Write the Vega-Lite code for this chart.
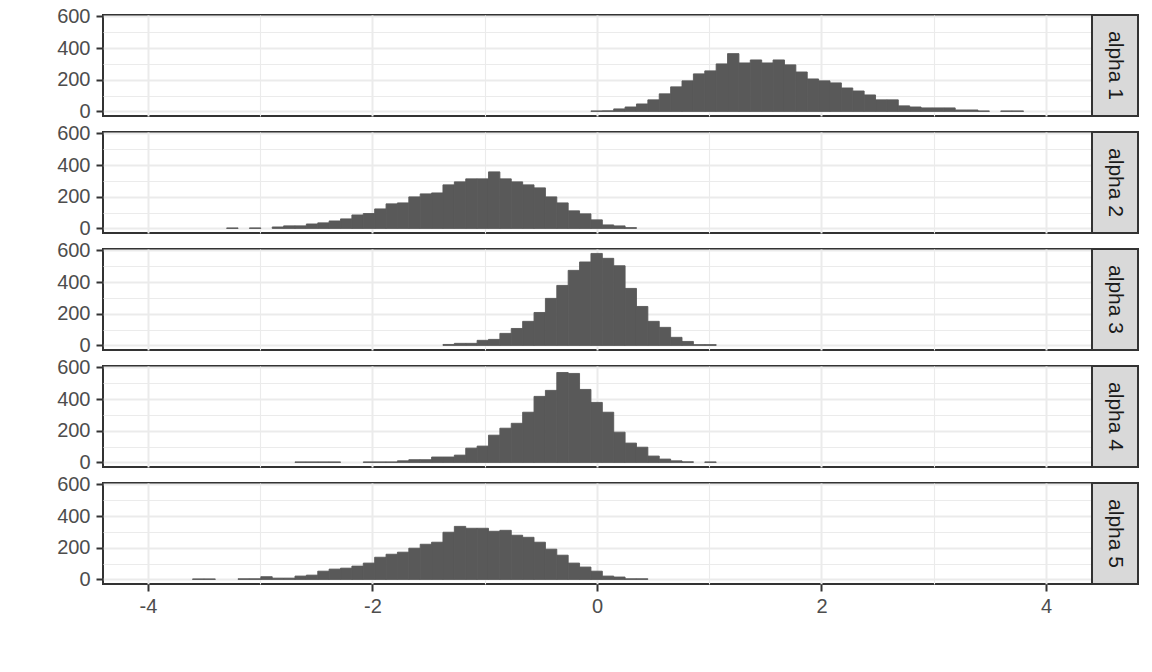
{
  "$schema": "https://vega.github.io/schema/vega-lite/v6.json",
  "padding": {"left": 55, "top": 5, "right": 5, "bottom": 5},
  "background": "white",
  "datasets": {
    "hist": [
      {"panel":"alpha 1","x0":-0.0534,"x1":0.0480,"n":3},
      {"panel":"alpha 1","x0":0.0480,"x1":0.1494,"n":4},
      {"panel":"alpha 1","x0":0.1494,"x1":0.2508,"n":16},
      {"panel":"alpha 1","x0":0.2508,"x1":0.3522,"n":28},
      {"panel":"alpha 1","x0":0.3522,"x1":0.4536,"n":47},
      {"panel":"alpha 1","x0":0.4536,"x1":0.5550,"n":73},
      {"panel":"alpha 1","x0":0.5550,"x1":0.6564,"n":111},
      {"panel":"alpha 1","x0":0.6564,"x1":0.7578,"n":155},
      {"panel":"alpha 1","x0":0.7578,"x1":0.8592,"n":193},
      {"panel":"alpha 1","x0":0.8592,"x1":0.9606,"n":237},
      {"panel":"alpha 1","x0":0.9606,"x1":1.0620,"n":256},
      {"panel":"alpha 1","x0":1.0620,"x1":1.1634,"n":300},
      {"panel":"alpha 1","x0":1.1634,"x1":1.2648,"n":365},
      {"panel":"alpha 1","x0":1.2648,"x1":1.3662,"n":306},
      {"panel":"alpha 1","x0":1.3662,"x1":1.4676,"n":325},
      {"panel":"alpha 1","x0":1.4676,"x1":1.5690,"n":306},
      {"panel":"alpha 1","x0":1.5690,"x1":1.6704,"n":325},
      {"panel":"alpha 1","x0":1.6704,"x1":1.7718,"n":294},
      {"panel":"alpha 1","x0":1.7718,"x1":1.8732,"n":249},
      {"panel":"alpha 1","x0":1.8732,"x1":1.9746,"n":205},
      {"panel":"alpha 1","x0":1.9746,"x1":2.0760,"n":193},
      {"panel":"alpha 1","x0":2.0760,"x1":2.1774,"n":180},
      {"panel":"alpha 1","x0":2.1774,"x1":2.2788,"n":148},
      {"panel":"alpha 1","x0":2.2788,"x1":2.3802,"n":129},
      {"panel":"alpha 1","x0":2.3802,"x1":2.4816,"n":104},
      {"panel":"alpha 1","x0":2.4816,"x1":2.5830,"n":73},
      {"panel":"alpha 1","x0":2.5830,"x1":2.6844,"n":73},
      {"panel":"alpha 1","x0":2.6844,"x1":2.7858,"n":35},
      {"panel":"alpha 1","x0":2.7858,"x1":2.8872,"n":28},
      {"panel":"alpha 1","x0":2.8872,"x1":2.9886,"n":22},
      {"panel":"alpha 1","x0":2.9886,"x1":3.0900,"n":22},
      {"panel":"alpha 1","x0":3.0900,"x1":3.1914,"n":22},
      {"panel":"alpha 1","x0":3.1914,"x1":3.2928,"n":9},
      {"panel":"alpha 1","x0":3.2928,"x1":3.3942,"n":9},
      {"panel":"alpha 1","x0":3.3942,"x1":3.4956,"n":3},
      {"panel":"alpha 1","x0":3.5970,"x1":3.6984,"n":3},
      {"panel":"alpha 1","x0":3.6984,"x1":3.7998,"n":3},

      {"panel":"alpha 2","x0":-3.2982,"x1":-3.1968,"n":3},
      {"panel":"alpha 2","x0":-3.0954,"x1":-2.9940,"n":3},
      {"panel":"alpha 2","x0":-2.8926,"x1":-2.7912,"n":9},
      {"panel":"alpha 2","x0":-2.7912,"x1":-2.6898,"n":16},
      {"panel":"alpha 2","x0":-2.6898,"x1":-2.5884,"n":16},
      {"panel":"alpha 2","x0":-2.5884,"x1":-2.4870,"n":28},
      {"panel":"alpha 2","x0":-2.4870,"x1":-2.3856,"n":35},
      {"panel":"alpha 2","x0":-2.3856,"x1":-2.2842,"n":47},
      {"panel":"alpha 2","x0":-2.2842,"x1":-2.1828,"n":60},
      {"panel":"alpha 2","x0":-2.1828,"x1":-2.0814,"n":85},
      {"panel":"alpha 2","x0":-2.0814,"x1":-1.9800,"n":94},
      {"panel":"alpha 2","x0":-1.9800,"x1":-1.8786,"n":123},
      {"panel":"alpha 2","x0":-1.8786,"x1":-1.7772,"n":155},
      {"panel":"alpha 2","x0":-1.7772,"x1":-1.6758,"n":161},
      {"panel":"alpha 2","x0":-1.6758,"x1":-1.5744,"n":199},
      {"panel":"alpha 2","x0":-1.5744,"x1":-1.4730,"n":218},
      {"panel":"alpha 2","x0":-1.4730,"x1":-1.3716,"n":224},
      {"panel":"alpha 2","x0":-1.3716,"x1":-1.2702,"n":275},
      {"panel":"alpha 2","x0":-1.2702,"x1":-1.1688,"n":294},
      {"panel":"alpha 2","x0":-1.1688,"x1":-1.0674,"n":313},
      {"panel":"alpha 2","x0":-1.0674,"x1":-0.9660,"n":313},
      {"panel":"alpha 2","x0":-0.9660,"x1":-0.8646,"n":357},
      {"panel":"alpha 2","x0":-0.8646,"x1":-0.7632,"n":313},
      {"panel":"alpha 2","x0":-0.7632,"x1":-0.6618,"n":294},
      {"panel":"alpha 2","x0":-0.6618,"x1":-0.5604,"n":275},
      {"panel":"alpha 2","x0":-0.5604,"x1":-0.4590,"n":256},
      {"panel":"alpha 2","x0":-0.4590,"x1":-0.3576,"n":199},
      {"panel":"alpha 2","x0":-0.3576,"x1":-0.2562,"n":161},
      {"panel":"alpha 2","x0":-0.2562,"x1":-0.1548,"n":111},
      {"panel":"alpha 2","x0":-0.1548,"x1":-0.0534,"n":92},
      {"panel":"alpha 2","x0":-0.0534,"x1":0.0480,"n":54},
      {"panel":"alpha 2","x0":0.0480,"x1":0.1494,"n":22},
      {"panel":"alpha 2","x0":0.1494,"x1":0.2508,"n":16},
      {"panel":"alpha 2","x0":0.2508,"x1":0.3522,"n":5},

      {"panel":"alpha 3","x0":-1.3716,"x1":-1.2702,"n":6},
      {"panel":"alpha 3","x0":-1.2702,"x1":-1.1688,"n":13},
      {"panel":"alpha 3","x0":-1.1688,"x1":-1.0674,"n":13},
      {"panel":"alpha 3","x0":-1.0674,"x1":-0.9660,"n":32},
      {"panel":"alpha 3","x0":-0.9660,"x1":-0.8646,"n":38},
      {"panel":"alpha 3","x0":-0.8646,"x1":-0.7632,"n":76},
      {"panel":"alpha 3","x0":-0.7632,"x1":-0.6618,"n":107},
      {"panel":"alpha 3","x0":-0.6618,"x1":-0.5604,"n":152},
      {"panel":"alpha 3","x0":-0.5604,"x1":-0.4590,"n":208},
      {"panel":"alpha 3","x0":-0.4590,"x1":-0.3576,"n":297},
      {"panel":"alpha 3","x0":-0.3576,"x1":-0.2562,"n":379},
      {"panel":"alpha 3","x0":-0.2562,"x1":-0.1548,"n":474},
      {"panel":"alpha 3","x0":-0.1548,"x1":-0.0534,"n":527},
      {"panel":"alpha 3","x0":-0.0534,"x1":0.0480,"n":581},
      {"panel":"alpha 3","x0":0.0480,"x1":0.1494,"n":550},
      {"panel":"alpha 3","x0":0.1494,"x1":0.2508,"n":503},
      {"panel":"alpha 3","x0":0.2508,"x1":0.3522,"n":360},
      {"panel":"alpha 3","x0":0.3522,"x1":0.4536,"n":246},
      {"panel":"alpha 3","x0":0.4536,"x1":0.5550,"n":152},
      {"panel":"alpha 3","x0":0.5550,"x1":0.6564,"n":114},
      {"panel":"alpha 3","x0":0.6564,"x1":0.7578,"n":51},
      {"panel":"alpha 3","x0":0.7578,"x1":0.8592,"n":25},
      {"panel":"alpha 3","x0":0.8592,"x1":0.9606,"n":5},
      {"panel":"alpha 3","x0":0.9606,"x1":1.0620,"n":5},

      {"panel":"alpha 4","x0":-2.6898,"x1":-2.5884,"n":3},
      {"panel":"alpha 4","x0":-2.5884,"x1":-2.4870,"n":3},
      {"panel":"alpha 4","x0":-2.4870,"x1":-2.3856,"n":3},
      {"panel":"alpha 4","x0":-2.3856,"x1":-2.2842,"n":3},
      {"panel":"alpha 4","x0":-2.0814,"x1":-1.9800,"n":3},
      {"panel":"alpha 4","x0":-1.9800,"x1":-1.8786,"n":3},
      {"panel":"alpha 4","x0":-1.8786,"x1":-1.7772,"n":3},
      {"panel":"alpha 4","x0":-1.7772,"x1":-1.6758,"n":10},
      {"panel":"alpha 4","x0":-1.6758,"x1":-1.5744,"n":17},
      {"panel":"alpha 4","x0":-1.5744,"x1":-1.4730,"n":17},
      {"panel":"alpha 4","x0":-1.4730,"x1":-1.3716,"n":34},
      {"panel":"alpha 4","x0":-1.3716,"x1":-1.2702,"n":34},
      {"panel":"alpha 4","x0":-1.2702,"x1":-1.1688,"n":46},
      {"panel":"alpha 4","x0":-1.1688,"x1":-1.0674,"n":90},
      {"panel":"alpha 4","x0":-1.0674,"x1":-0.9660,"n":103},
      {"panel":"alpha 4","x0":-0.9660,"x1":-0.8646,"n":172},
      {"panel":"alpha 4","x0":-0.8646,"x1":-0.7632,"n":216},
      {"panel":"alpha 4","x0":-0.7632,"x1":-0.6618,"n":247},
      {"panel":"alpha 4","x0":-0.6618,"x1":-0.5604,"n":317},
      {"panel":"alpha 4","x0":-0.5604,"x1":-0.4590,"n":417},
      {"panel":"alpha 4","x0":-0.4590,"x1":-0.3576,"n":455},
      {"panel":"alpha 4","x0":-0.3576,"x1":-0.2562,"n":568},
      {"panel":"alpha 4","x0":-0.2562,"x1":-0.1548,"n":562},
      {"panel":"alpha 4","x0":-0.1548,"x1":-0.0534,"n":461},
      {"panel":"alpha 4","x0":-0.0534,"x1":0.0480,"n":379},
      {"panel":"alpha 4","x0":0.0480,"x1":0.1494,"n":317},
      {"panel":"alpha 4","x0":0.1494,"x1":0.2508,"n":191},
      {"panel":"alpha 4","x0":0.2508,"x1":0.3522,"n":122},
      {"panel":"alpha 4","x0":0.3522,"x1":0.4536,"n":96},
      {"panel":"alpha 4","x0":0.4536,"x1":0.5550,"n":40},
      {"panel":"alpha 4","x0":0.5550,"x1":0.6564,"n":21},
      {"panel":"alpha 4","x0":0.6564,"x1":0.7578,"n":10},
      {"panel":"alpha 4","x0":0.7578,"x1":0.8592,"n":4},
      {"panel":"alpha 4","x0":0.9606,"x1":1.0620,"n":3},

      {"panel":"alpha 5","x0":-3.6024,"x1":-3.5010,"n":3},
      {"panel":"alpha 5","x0":-3.5010,"x1":-3.3996,"n":3},
      {"panel":"alpha 5","x0":-3.1968,"x1":-3.0954,"n":4},
      {"panel":"alpha 5","x0":-3.0954,"x1":-2.9940,"n":4},
      {"panel":"alpha 5","x0":-2.9940,"x1":-2.8926,"n":17},
      {"panel":"alpha 5","x0":-2.8926,"x1":-2.7912,"n":8},
      {"panel":"alpha 5","x0":-2.7912,"x1":-2.6898,"n":8},
      {"panel":"alpha 5","x0":-2.6898,"x1":-2.5884,"n":21},
      {"panel":"alpha 5","x0":-2.5884,"x1":-2.4870,"n":27},
      {"panel":"alpha 5","x0":-2.4870,"x1":-2.3856,"n":52},
      {"panel":"alpha 5","x0":-2.3856,"x1":-2.2842,"n":65},
      {"panel":"alpha 5","x0":-2.2842,"x1":-2.1828,"n":71},
      {"panel":"alpha 5","x0":-2.1828,"x1":-2.0814,"n":84},
      {"panel":"alpha 5","x0":-2.0814,"x1":-1.9800,"n":103},
      {"panel":"alpha 5","x0":-1.9800,"x1":-1.8786,"n":140},
      {"panel":"alpha 5","x0":-1.8786,"x1":-1.7772,"n":159},
      {"panel":"alpha 5","x0":-1.7772,"x1":-1.6758,"n":172},
      {"panel":"alpha 5","x0":-1.6758,"x1":-1.5744,"n":197},
      {"panel":"alpha 5","x0":-1.5744,"x1":-1.4730,"n":222},
      {"panel":"alpha 5","x0":-1.4730,"x1":-1.3716,"n":235},
      {"panel":"alpha 5","x0":-1.3716,"x1":-1.2702,"n":298},
      {"panel":"alpha 5","x0":-1.2702,"x1":-1.1688,"n":335},
      {"panel":"alpha 5","x0":-1.1688,"x1":-1.0674,"n":323},
      {"panel":"alpha 5","x0":-1.0674,"x1":-0.9660,"n":323},
      {"panel":"alpha 5","x0":-0.9660,"x1":-0.8646,"n":304},
      {"panel":"alpha 5","x0":-0.8646,"x1":-0.7632,"n":310},
      {"panel":"alpha 5","x0":-0.7632,"x1":-0.6618,"n":279},
      {"panel":"alpha 5","x0":-0.6618,"x1":-0.5604,"n":266},
      {"panel":"alpha 5","x0":-0.5604,"x1":-0.4590,"n":235},
      {"panel":"alpha 5","x0":-0.4590,"x1":-0.3576,"n":191},
      {"panel":"alpha 5","x0":-0.3576,"x1":-0.2562,"n":153},
      {"panel":"alpha 5","x0":-0.2562,"x1":-0.1548,"n":103},
      {"panel":"alpha 5","x0":-0.1548,"x1":-0.0534,"n":78},
      {"panel":"alpha 5","x0":-0.0534,"x1":0.0480,"n":52},
      {"panel":"alpha 5","x0":0.0480,"x1":0.1494,"n":21},
      {"panel":"alpha 5","x0":0.1494,"x1":0.2508,"n":15},
      {"panel":"alpha 5","x0":0.2508,"x1":0.3522,"n":4},
      {"panel":"alpha 5","x0":0.3522,"x1":0.4536,"n":4}
    ],
    "strips": [
      {"label": "alpha 1"}, {"label": "alpha 2"}, {"label": "alpha 3"}, {"label": "alpha 4"}, {"label": "alpha 5"}
    ]
  },
  "columns": 2,
  "spacing": {"row": 16, "column": 0},
  "bounds": "flush",
  "concat": [
    {
      "width": 989, "height": 101,
      "data": {"name": "hist"},
      "transform": [{"filter": "datum.panel === 'alpha 1'"}],
      "mark": {"type": "bar", "color": "#595959", "stroke": "#595959", "strokeWidth": 0.9},
      "encoding": {
        "x": {"field": "x0", "type": "quantitative", "scale": {"domain": [-4.4, 4.41], "nice": false, "zero": false},
              "axis": {"values": [-4,-3,-2,-1,0,1,2,3,4], "labels": false, "ticks": false,
                       "gridWidth": {"condition": {"test": "datum.value % 2 === 0", "value": 2}, "value": 1.1}}},
        "x2": {"field": "x1"},
        "y": {"field": "n", "type": "quantitative", "scale": {"domain": [-29, 609], "nice": false, "zero": false},
              "axis": {"values": [0,100,200,300,400,500,600],
                       "labelExpr": "datum.value % 200 === 0 ? '' + datum.value : ''",
                       "tickOpacity": {"condition": {"test": "datum.value % 200 === 0", "value": 1}, "value": 0},
                       "gridWidth": {"condition": {"test": "datum.value % 200 === 0", "value": 2}, "value": 1.1}}},
        "y2": {"datum": 0}
      }
    },
    {
      "width": 46, "height": 101,
      "data": {"name": "strips"},
      "transform": [{"filter": "datum.label === 'alpha 1'"}],
      "view": {"fill": "#D9D9D9", "stroke": "#333333", "strokeWidth": 2},
      "mark": {"type": "text", "angle": 90, "fontSize": 21, "font": "Liberation Sans", "color": "#1A1A1A"},
      "encoding": {"text": {"field": "label"}}
    },
    {
      "width": 989, "height": 101,
      "data": {"name": "hist"},
      "transform": [{"filter": "datum.panel === 'alpha 2'"}],
      "mark": {"type": "bar", "color": "#595959", "stroke": "#595959", "strokeWidth": 0.9},
      "encoding": {
        "x": {"field": "x0", "type": "quantitative", "scale": {"domain": [-4.4, 4.41], "nice": false, "zero": false},
              "axis": {"values": [-4,-3,-2,-1,0,1,2,3,4], "labels": false, "ticks": false,
                       "gridWidth": {"condition": {"test": "datum.value % 2 === 0", "value": 2}, "value": 1.1}}},
        "x2": {"field": "x1"},
        "y": {"field": "n", "type": "quantitative", "scale": {"domain": [-29, 609], "nice": false, "zero": false},
              "axis": {"values": [0,100,200,300,400,500,600],
                       "labelExpr": "datum.value % 200 === 0 ? '' + datum.value : ''",
                       "tickOpacity": {"condition": {"test": "datum.value % 200 === 0", "value": 1}, "value": 0},
                       "gridWidth": {"condition": {"test": "datum.value % 200 === 0", "value": 2}, "value": 1.1}}},
        "y2": {"datum": 0}
      }
    },
    {
      "width": 46, "height": 101,
      "data": {"name": "strips"},
      "transform": [{"filter": "datum.label === 'alpha 2'"}],
      "view": {"fill": "#D9D9D9", "stroke": "#333333", "strokeWidth": 2},
      "mark": {"type": "text", "angle": 90, "fontSize": 21, "font": "Liberation Sans", "color": "#1A1A1A"},
      "encoding": {"text": {"field": "label"}}
    },
    {
      "width": 989, "height": 101,
      "data": {"name": "hist"},
      "transform": [{"filter": "datum.panel === 'alpha 3'"}],
      "mark": {"type": "bar", "color": "#595959", "stroke": "#595959", "strokeWidth": 0.9},
      "encoding": {
        "x": {"field": "x0", "type": "quantitative", "scale": {"domain": [-4.4, 4.41], "nice": false, "zero": false},
              "axis": {"values": [-4,-3,-2,-1,0,1,2,3,4], "labels": false, "ticks": false,
                       "gridWidth": {"condition": {"test": "datum.value % 2 === 0", "value": 2}, "value": 1.1}}},
        "x2": {"field": "x1"},
        "y": {"field": "n", "type": "quantitative", "scale": {"domain": [-29, 609], "nice": false, "zero": false},
              "axis": {"values": [0,100,200,300,400,500,600],
                       "labelExpr": "datum.value % 200 === 0 ? '' + datum.value : ''",
                       "tickOpacity": {"condition": {"test": "datum.value % 200 === 0", "value": 1}, "value": 0},
                       "gridWidth": {"condition": {"test": "datum.value % 200 === 0", "value": 2}, "value": 1.1}}},
        "y2": {"datum": 0}
      }
    },
    {
      "width": 46, "height": 101,
      "data": {"name": "strips"},
      "transform": [{"filter": "datum.label === 'alpha 3'"}],
      "view": {"fill": "#D9D9D9", "stroke": "#333333", "strokeWidth": 2},
      "mark": {"type": "text", "angle": 90, "fontSize": 21, "font": "Liberation Sans", "color": "#1A1A1A"},
      "encoding": {"text": {"field": "label"}}
    },
    {
      "width": 989, "height": 101,
      "data": {"name": "hist"},
      "transform": [{"filter": "datum.panel === 'alpha 4'"}],
      "mark": {"type": "bar", "color": "#595959", "stroke": "#595959", "strokeWidth": 0.9},
      "encoding": {
        "x": {"field": "x0", "type": "quantitative", "scale": {"domain": [-4.4, 4.41], "nice": false, "zero": false},
              "axis": {"values": [-4,-3,-2,-1,0,1,2,3,4], "labels": false, "ticks": false,
                       "gridWidth": {"condition": {"test": "datum.value % 2 === 0", "value": 2}, "value": 1.1}}},
        "x2": {"field": "x1"},
        "y": {"field": "n", "type": "quantitative", "scale": {"domain": [-29, 609], "nice": false, "zero": false},
              "axis": {"values": [0,100,200,300,400,500,600],
                       "labelExpr": "datum.value % 200 === 0 ? '' + datum.value : ''",
                       "tickOpacity": {"condition": {"test": "datum.value % 200 === 0", "value": 1}, "value": 0},
                       "gridWidth": {"condition": {"test": "datum.value % 200 === 0", "value": 2}, "value": 1.1}}},
        "y2": {"datum": 0}
      }
    },
    {
      "width": 46, "height": 101,
      "data": {"name": "strips"},
      "transform": [{"filter": "datum.label === 'alpha 4'"}],
      "view": {"fill": "#D9D9D9", "stroke": "#333333", "strokeWidth": 2},
      "mark": {"type": "text", "angle": 90, "fontSize": 21, "font": "Liberation Sans", "color": "#1A1A1A"},
      "encoding": {"text": {"field": "label"}}
    },
    {
      "width": 989, "height": 101,
      "data": {"name": "hist"},
      "transform": [{"filter": "datum.panel === 'alpha 5'"}],
      "mark": {"type": "bar", "color": "#595959", "stroke": "#595959", "strokeWidth": 0.9},
      "encoding": {
        "x": {"field": "x0", "type": "quantitative", "scale": {"domain": [-4.4, 4.41], "nice": false, "zero": false},
              "axis": {"values": [-4,-3,-2,-1,0,1,2,3,4], "labelPadding": 5,
                       "labelExpr": "datum.value % 2 === 0 ? '' + datum.value : ''",
                       "tickOpacity": {"condition": {"test": "datum.value % 2 === 0", "value": 1}, "value": 0},
                       "gridWidth": {"condition": {"test": "datum.value % 2 === 0", "value": 2}, "value": 1.1}}},
        "x2": {"field": "x1"},
        "y": {"field": "n", "type": "quantitative", "scale": {"domain": [-29, 609], "nice": false, "zero": false},
              "axis": {"values": [0,100,200,300,400,500,600],
                       "labelExpr": "datum.value % 200 === 0 ? '' + datum.value : ''",
                       "tickOpacity": {"condition": {"test": "datum.value % 200 === 0", "value": 1}, "value": 0},
                       "gridWidth": {"condition": {"test": "datum.value % 200 === 0", "value": 2}, "value": 1.1}}},
        "y2": {"datum": 0}
      }
    },
    {
      "width": 46, "height": 101,
      "data": {"name": "strips"},
      "transform": [{"filter": "datum.label === 'alpha 5'"}],
      "view": {"fill": "#D9D9D9", "stroke": "#333333", "strokeWidth": 2},
      "mark": {"type": "text", "angle": 90, "fontSize": 21, "font": "Liberation Sans", "color": "#1A1A1A"},
      "encoding": {"text": {"field": "label"}}
    }
  ],
  "config": {
    "view": {"stroke": "#333333", "strokeWidth": 2},
    "axis": {
      "title": null,
      "domain": false,
      "gridColor": "#EBEBEB",
      "labelFont": "Liberation Sans",
      "labelFontSize": 20,
      "labelColor": "#4D4D4D",
      "labelFlush": false,
      "labelOverlap": false,
      "tickColor": "#333333",
      "tickWidth": 2,
      "tickSize": 7,
      "labelPadding": 6
    }
  }
}
